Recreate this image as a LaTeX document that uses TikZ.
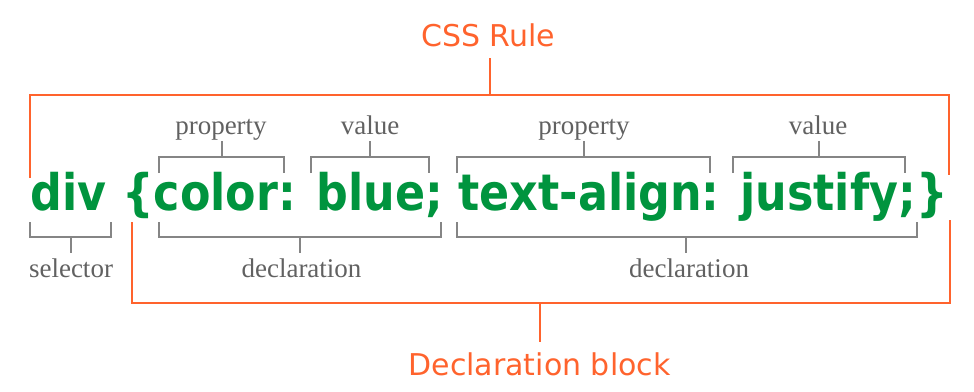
\documentclass[tikz,border=0pt]{standalone}
\usepackage{fontspec}
\newfontfamily\codefont{DejaVu Sans}
\newfontfamily\notefont{Liberation Serif}
\definecolor{cssorange}{RGB}{255,99,45}
\definecolor{codegreen}{RGB}{0,148,62}
\colorlet{notegray}{black!62}
\colorlet{tickgray}{black!48}

\begin{document}
\begin{tikzpicture}[x=1pt,y=-1pt,
        lbl/.style={font=\notefont\fontsize{27}{27}\selectfont, text=notegray, inner sep=0pt, anchor=base},
        title/.style={font=\codefont\fontsize{30}{30}\selectfont, text=cssorange, inner sep=0pt, anchor=base},
        tick/.style={tickgray, line width=1.5pt},
        rule/.style={cssorange, line width=2pt}]
            \useasboundingbox (0,0) rectangle (974,391);
            \node[anchor=base west, inner sep=0pt, text=codegreen,
                font=\codefont\bfseries\fontsize{44.4}{44.4}\selectfont] (code) at (30.5,210)
                {\scalebox{1}[1.135]{div \{color: blue; text-align: justify;\}}};
            \foreach \name/\x/\y/\txt in {propA/221/134/property, valA/370/134/value,
                propB/584/134/property, valB/818/134/value, sel/71/277/selector,
                declA/301.5/277/declaration, declB/689/277/declaration}{
                \node[lbl] (\name) at (\x,\y) {\txt};
            }
            % brackets above the code
            \foreach \l/\r/\m in {159/284/222, 311/429/370, 457/710/584, 733/905/819}{
                \draw[tick] (\l,173) -- (\l,157) -- (\r,157) -- (\r,173);
                \draw[tick] (\m,141) -- (\m,157);
            }
            % brackets below the code
            \foreach \l/\r/\m in {30/111/71, 159/441/300, 457/917/686}{
                \draw[tick] (\l,222) -- (\l,237) -- (\r,237) -- (\r,222);
                \draw[tick] (\m,237) -- (\m,253);
            }
            \node[title] (rule) at (488,46) {CSS Rule};
            \coordinate (ruletop) at (490,58);
            \draw[rule] (30,178) -- (30,95) -- (949,95) -- (949,175);
            \draw[rule] (ruletop) -- (490,95);
            \node[title] (block) at (539.5,375) {Declaration block};
            \coordinate (blocktop) at (540,342);
            \draw[rule] (132,222) -- (132,303) -- (950,303) -- (950,220);
            \draw[rule] (540,303) -- (blocktop);
        \end{tikzpicture}
\end{document}
